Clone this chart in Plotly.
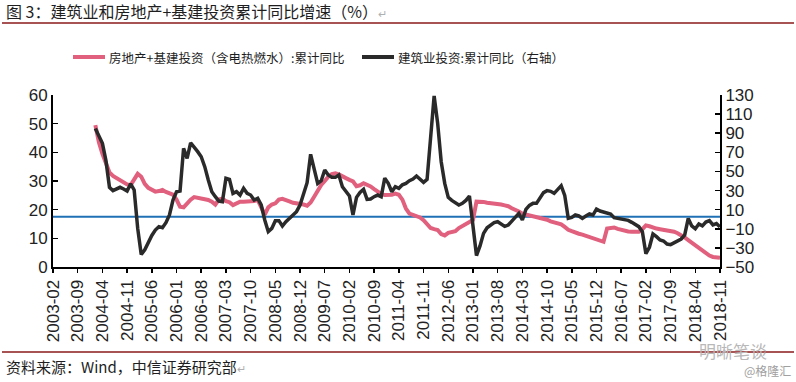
import plotly.graph_objects as go
import pandas as pd

# ---------------- data ----------------
months = list(pd.date_range("2003-02-01", "2018-11-01", freq="MS").strftime("%Y-%m"))
tick_labels = months[::7]
series_start = "2004-02"

# 房地产+基建投资（含电热燃水）:累计同比 (left axis, %)
re_infra_2004 = [49.5, 43.5, 39.5, 36, 33, 31.8, 31, 30, 29.2, 28.8, 28.6]
re_infra_2005 = [30.5, 32.5, 31.5, 29, 27.6, 26.8, 26.3, 26.5, 26.9, 26.2, 25.8, 25.2]
re_infra_2006 = [23.5, 21, 20.8, 22.2, 23.5, 24.4, 24.2, 23.9, 23.6, 23.4, 22.8, 21.8]
re_infra_2007 = [23.5, 23.8, 23, 22.6, 21.6, 22.2, 22.8, 22.8, 22.8, 22.8, 23, 23.4]
re_infra_2008 = [21, 18.3, 20.8, 21.8, 22.2, 23.5, 23.8, 23.5, 22.9, 22.4, 22.2, 22.2]
re_infra_2009 = [21.8, 21.4, 22.5, 24.5, 26.8, 28.6, 30, 31.5, 32.4, 32.7, 32.3, 31.8]
re_infra_2010 = [31, 30.4, 29.9, 28.2, 28.5, 29.2, 28.8, 28.1, 27.2, 26.3, 25.5, 25.1]
re_infra_2011 = [25.1, 25.2, 25.6, 25.2, 23.5, 20.4, 18.6, 18.2, 17.8, 17.3, 16.3, 14.8]
re_infra_2012 = [13.6, 13.2, 12.9, 11.5, 11.0, 11.9, 12.1, 12.5, 13.6, 14.3, 15.2, 15.8]
re_infra_2013 = [16.4, 22.8, 22.9, 22.7, 22.4, 22.3, 22.1, 22, 21.8, 21.5, 21.2, 20.5]
re_infra_2014 = [20, 19.4, 18.6, 18.3, 18, 17.8, 17.7, 17.4, 17, 16.5, 15.9, 15.5]
re_infra_2015 = [15.2, 14.9, 14, 13, 12.5, 11.9, 11.6, 11.3, 10.9, 10.4, 10, 9.7]
re_infra_2016 = [9.3, 8.8, 13.4, 13.7, 13.8, 13.3, 12.9, 12.6, 12.4, 12.3, 12.3, 12.3]
re_infra_2017 = [13.2, 14.5, 14.2, 13.7, 13.4, 13.2, 13, 12.8, 12.6, 12.3, 11.8, 11.2]
re_infra_2018 = [10.3, 9.4, 8.5, 7.5, 6.3, 5.5, 4.6, 4.0, 3.5, 3.2, 3.2]

# 建筑业投资:累计同比 (right axis, %)
constr_2004 = [95, 88, 79.4, 61.3, 33.4, 29.9, 31.6, 33.4, 31.6, 29.5, 37]
constr_2005 = [30.6, -9.6, -37, -32, -24, -17, -11.3, -7.8, -8.9, -3.6, 4.4, 20.1]
constr_2006 = [28.8, 29.5, 74.2, 63.7, 80, 76, 70.7, 65.4, 55, 41, 28.8, 23.6]
constr_2007 = [19, 18.3, 42.8, 41.7, 27, 28.8, 25.3, 32.3, 27.1, 25.3, 20.1, 21.8]
constr_2008 = [14.9, -0.8, -13, -9.6, -1.5, -1.5, -7.1, -2.6, 0.9, 4.4, 7.9, 14.9]
constr_2009 = [26.4, 38.2, 67.9, 51.5, 37.5, 40.3, 51.5, 46.3, 43.8, 43.8, 46.3, 34]
constr_2010 = [28.8, 24.3, 4.4, 22.9, 28.1, 31.3, 20.8, 21.1, 23.6, 25.3, 23.6, 43]
constr_2011 = [37.5, 28.8, 34, 32.3, 36, 37.5, 40.3, 42, 45.2, 41.7, 38.6, 41.7]
constr_2012 = [82.9, 129, 100.3, 60.2, 37.5, 22.9, 19.7, 17.3, 14.9, 16.6, 19.7, 24.3]
constr_2013 = [-4.3, -38, -28, -14.8, -8.9, -6.1, -3.6, -2.6, -5, -7.5, -6.1, -1.9]
constr_2014 = [1.9, 6.1, -0.8, 10.3, 14.5, 16.6, 16.6, 21.8, 27.8, 29.9, 29.2, 27.1]
constr_2015 = [31.6, 35.1, 25, 0.9, 1.9, 4.4, 3.4, 0.9, 3.4, 5.5, 4.4, 10.7]
constr_2016 = [8.6, 7.5, 6.8, 5.5, 1.6, 0.9, -0.1, -0.8, -1.2, -3.3, -5.7, -7.8]
constr_2017 = [-13, -36, -29.4, -15.5, -18.3, -21.8, -22.8, -26, -26.6, -24.9, -22.5, -20.7]
constr_2018 = [-16.5, 0.8, -7, -10, -5, -7, -3, -1.5, -6, -4.5, -8]

reference_level_right = 2.5  # horizontal blue reference line (right axis units)

re_infra = (re_infra_2004 + re_infra_2005 + re_infra_2006 + re_infra_2007 + re_infra_2008
            + re_infra_2009 + re_infra_2010 + re_infra_2011 + re_infra_2012 + re_infra_2013
            + re_infra_2014 + re_infra_2015 + re_infra_2016 + re_infra_2017 + re_infra_2018)
constr = (constr_2004 + constr_2005 + constr_2006 + constr_2007 + constr_2008
          + constr_2009 + constr_2010 + constr_2011 + constr_2012 + constr_2013
          + constr_2014 + constr_2015 + constr_2016 + constr_2017 + constr_2018)
series_months = months[months.index(series_start):]

name_pink = "房地产+基建投资（含电热燃水）:累计同比"
name_black = "建筑业投资:累计同比（右轴）"

# ---------------- layout geometry ----------------
W, H = 796, 382
L, R, T, B = 53, 76, 95, 115
PW = W - L - R
PH = H - T - B


def px(x):
    return (x - L) / PW


def py(y):
    return (H - B - y) / PH


PINK = "#E0607E"
BLACK = "#2A2A2A"
BLUE = "#1F70B5"
DARKRED = "#8B1A1A"
TXT = "#1E1E1E"
NUMFONT = "Liberation Sans, Arial, sans-serif"
CJK = "Noto Sans CJK SC, sans-serif"

fig = go.Figure()
fig.add_trace(go.Scatter(x=series_months, y=re_infra, mode="lines", name=name_pink,
                         line=dict(color=PINK, width=4), yaxis="y"))
fig.add_trace(go.Scatter(x=series_months, y=constr, mode="lines", name=name_black,
                         line=dict(color=BLACK, width=3.5), yaxis="y2"))

axis_common = dict(showline=True, linecolor="black", linewidth=2, showgrid=False,
                   zeroline=False, tickcolor="black", tickwidth=1.5,
                   tickfont=dict(family=NUMFONT, size=17, color="#222"))

fig.update_layout(
    width=W, height=H,
    margin=dict(l=L, r=R, t=T, b=B, pad=0),
    paper_bgcolor="white", plot_bgcolor="white",
    showlegend=False,
    xaxis=dict(type="category", categoryorder="array", categoryarray=months,
               range=[0, len(months) - 1], tickmode="array", tickvals=tick_labels,
               ticktext=tick_labels, tickangle=-90, ticks="outside", ticklen=4,
               **axis_common),
    yaxis=dict(range=[0, 60], tick0=0, dtick=10, ticks="inside", ticklen=5, **axis_common),
    yaxis2=dict(range=[-50, 130], tick0=-50, dtick=20, ticks="inside", ticklen=5,
                overlaying="y", side="right", **axis_common),
)

shapes = [
    # reference line
    dict(type="line", xref="paper", x0=0, x1=1, yref="y2",
         y0=reference_level_right, y1=reference_level_right,
         line=dict(color=BLUE, width=2), layer="below"),
    # title underline & source overline
    dict(type="line", xref="paper", yref="paper", x0=px(2), x1=px(794), y0=py(23), y1=py(23),
         line=dict(color=DARKRED, width=1.5)),
    dict(type="line", xref="paper", yref="paper", x0=px(2), x1=px(794), y0=py(352), y1=py(352),
         line=dict(color=DARKRED, width=1.5)),
    # legend samples
    dict(type="line", xref="paper", yref="paper", x0=px(73), x1=px(105), y0=py(57), y1=py(57),
         line=dict(color=PINK, width=4)),
    dict(type="line", xref="paper", yref="paper", x0=px(362), x1=px(394), y0=py(57), y1=py(57),
         line=dict(color=BLACK, width=4)),
]
fig.update_layout(shapes=shapes)

RET = '<span style="color:#b0b0b0;font-size:11px">↵</span>'


def label(x, y, text, size, color=TXT, family=CJK, anchor="left"):
    return dict(xref="paper", yref="paper", x=px(x), y=py(y), text=text, showarrow=False,
                xanchor=anchor, yanchor="middle",
                font=dict(family=family, size=size, color=color))


annotations = [
    label(4, 11, "图 3：建筑业和房地产+基建投资累计同比增速（%）" + RET, 16),
    label(107, 57, name_pink, 12.5),
    label(396, 57, name_black, 12.5),
    label(4, 366, "资料来源：Wind，中信证券研究部" + RET, 15),
    label(697, 350, "明晰笔谈", 17, color="#b8b8b8"),
    label(742, 370, "@格隆汇", 12, color="#a0a0a0"),
]
fig.update_layout(annotations=annotations)

fig.write_html("out.html",
               config={"displayModeBar": False, "staticPlot": True},
               post_script="document.body.style.margin='0';document.body.style.overflow='hidden';")
